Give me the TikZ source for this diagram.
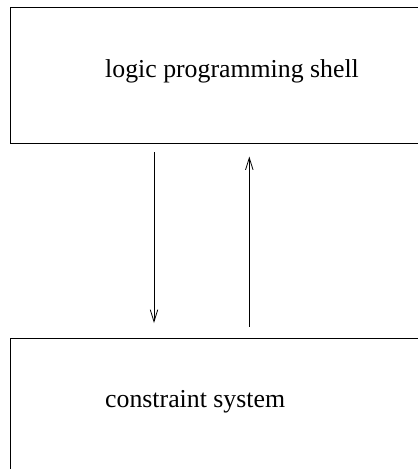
\documentclass[tikz,border=0pt]{standalone}
\usepackage{fontspec}
\setmainfont{Liberation Serif}
\usetikzlibrary{arrows.meta}
\begin{document}
\begin{tikzpicture}[x=1pt,y=-1pt,
  blockbox/.style={draw, line width=0.9pt, rectangle, inner sep=0pt, anchor=north west},
  blocktext/.style={anchor=base west, inner sep=0pt, font=\fontsize{25.8}{30}\selectfont},
  flow/.style={line width=0.8pt, -{Straight Barb[length=12pt,width=7.5pt,line width=0.8pt]}}]
  \useasboundingbox (0,0) rectangle (418,469);
  \clip (0,0) rectangle (418,469);
  % the two blocks run past the right and bottom edges
  \node[blockbox, minimum width=440pt, minimum height=136pt] (shell) at (9.5,7.3) {};
  \node[blockbox, minimum width=440pt, minimum height=160pt] (csys) at (9.5,338.3) {};
  \node[blocktext] (shelltext) at (105,77) {logic programming shell};
  \node[blocktext] (csystext) at (105,407) {constraint system};
  % query and answer arrows between the blocks
  \coordinate (downstart) at (154,152);
  \coordinate (downend) at (154,323);
  \coordinate (upstart) at (249.3,326.7);
  \coordinate (upend) at (249.3,156.5);
  \draw[flow] (downstart) -- (downend);
  \draw[flow] (upstart) -- (upend);
\end{tikzpicture}
\end{document}
